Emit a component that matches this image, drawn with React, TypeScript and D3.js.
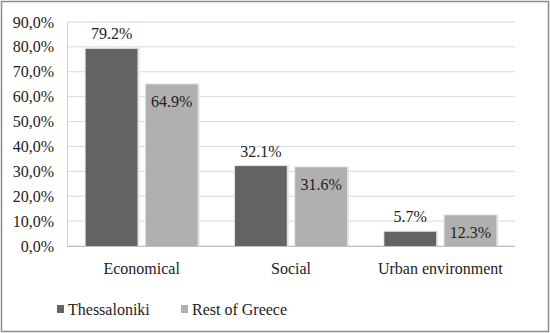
import { useEffect, useRef } from 'react';
import * as d3 from 'd3';

const categories = ['Economical', 'Social', 'Urban environment'];
const seriesNames = ['Thessaloniki', 'Rest of Greece'];
const thessaloniki = [79.2, 32.1, 5.7];
const restOfGreece = [64.9, 31.6, 12.3];
const yTicks = [0, 10, 20, 30, 40, 50, 60, 70, 80, 90];

const COLORS = ['#636363', '#b0b0b0'];
const FONT = "'Liberation Serif', 'DejaVu Serif', serif";
const FS = '16px';

export default function App() {
  const svgRef = useRef<SVGSVGElement>(null);

  useEffect(() => {
    if (!svgRef.current) return;
    const width = 550;
    const height = 333;
    const margin = { top: 22, right: 35, bottom: 87, left: 67 };
    const w = width - margin.left - margin.right;
    const h = height - margin.top - margin.bottom;

    const svg = d3.select(svgRef.current);
    svg.selectAll('*').remove();

    // outer frame
    svg.append('rect')
      .attr('x', 1.5).attr('y', 1.5)
      .attr('width', width - 3).attr('height', height - 3)
      .attr('fill', '#fff')
      .attr('stroke', '#8c8c8c')
      .attr('stroke-width', 1.5);

    const g = svg.append('g').attr('transform', `translate(${margin.left},${margin.top})`);

    const x0 = d3.scaleBand().domain(categories).range([0, w]).paddingInner(0.25).paddingOuter(0.125);
    const x1 = d3.scaleBand().domain(seriesNames).range([0, x0.bandwidth()]).paddingInner(0.14);
    const y = d3.scaleLinear().domain([0, 90]).range([h, 0]);

    // grid
    g.append('g')
      .selectAll('line')
      .data(yTicks)
      .join('line')
      .attr('x1', 0).attr('x2', w)
      .attr('y1', d => y(d)).attr('y2', d => y(d))
      .attr('stroke', '#d9d9d9')
      .attr('stroke-width', 1);

    // left frame line
    g.append('line')
      .attr('x1', 0.5).attr('x2', 0.5)
      .attr('y1', 0).attr('y2', h)
      .attr('stroke', '#d0d0d0');

    // y labels
    g.append('g')
      .selectAll('text')
      .data(yTicks)
      .join('text')
      .attr('x', -13)
      .attr('y', d => y(d))
      .attr('dy', '0.35em')
      .attr('text-anchor', 'end')
      .style('font-family', FONT)
      .style('font-size', FS)
      .attr('fill', '#222')
      .text(d => d.toFixed(1).replace('.', ',') + '%');

    const series = [thessaloniki, restOfGreece];

    categories.forEach((cat, ci) => {
      series.forEach((vals, si) => {
        const name = seriesNames[si];
        const bx = (x0(cat) ?? 0) + (x1(name) ?? 0);
        const bw = x1.bandwidth();
        const v = vals[ci];
        // soft shadow
        g.append('rect')
          .attr('x', bx - 1).attr('y', y(v) - 1)
          .attr('width', bw + 3).attr('height', h - y(v) + 1)
          .attr('fill', '#e3e3e3');
        g.append('rect')
          .attr('x', bx).attr('y', y(v))
          .attr('width', bw).attr('height', h - y(v))
          .attr('fill', COLORS[si]);
        g.append('text')
          .attr('x', bx + bw / 2)
          .attr('y', si === 0 ? y(v) - 15 : y(v) + 17)
          .attr('dy', '0.35em')
          .attr('text-anchor', 'middle')
          .style('font-family', FONT)
          .style('font-size', FS)
          .attr('fill', '#222')
          .text(v.toFixed(1) + '%');
      });
    });

    // bottom axis line
    g.append('line')
      .attr('x1', 0).attr('x2', w)
      .attr('y1', h + 0.5).attr('y2', h + 0.5)
      .attr('stroke', '#bfbfbf');

    // category labels
    g.append('g')
      .selectAll('text')
      .data(categories)
      .join('text')
      .attr('x', d => (x0(d) ?? 0) + x0.bandwidth() / 2)
      .attr('y', h + 22)
      .attr('dy', '0.35em')
      .attr('text-anchor', 'middle')
      .style('font-family', FONT)
      .style('font-size', FS)
      .attr('fill', '#222')
      .text(d => d);

    // legend
    const legendX = [57, 181];
    seriesNames.forEach((name, i) => {
      const lg = svg.append('g').attr('transform', `translate(${legendX[i]},309)`);
      lg.append('rect').attr('x', 0).attr('y', -4).attr('width', 7).attr('height', 8).attr('fill', COLORS[i]);
      lg.append('text')
        .attr('x', 11).attr('y', 0)
        .attr('dy', '0.35em')
        .style('font-family', FONT)
        .style('font-size', FS)
        .attr('fill', '#222')
        .text(name);
    });
  }, []);

  return (
    <svg
      ref={svgRef}
      width={550}
      height={333}
      style={{ position: 'absolute', left: 0, top: 0, fontFamily: FONT }}
    />
  );
}
